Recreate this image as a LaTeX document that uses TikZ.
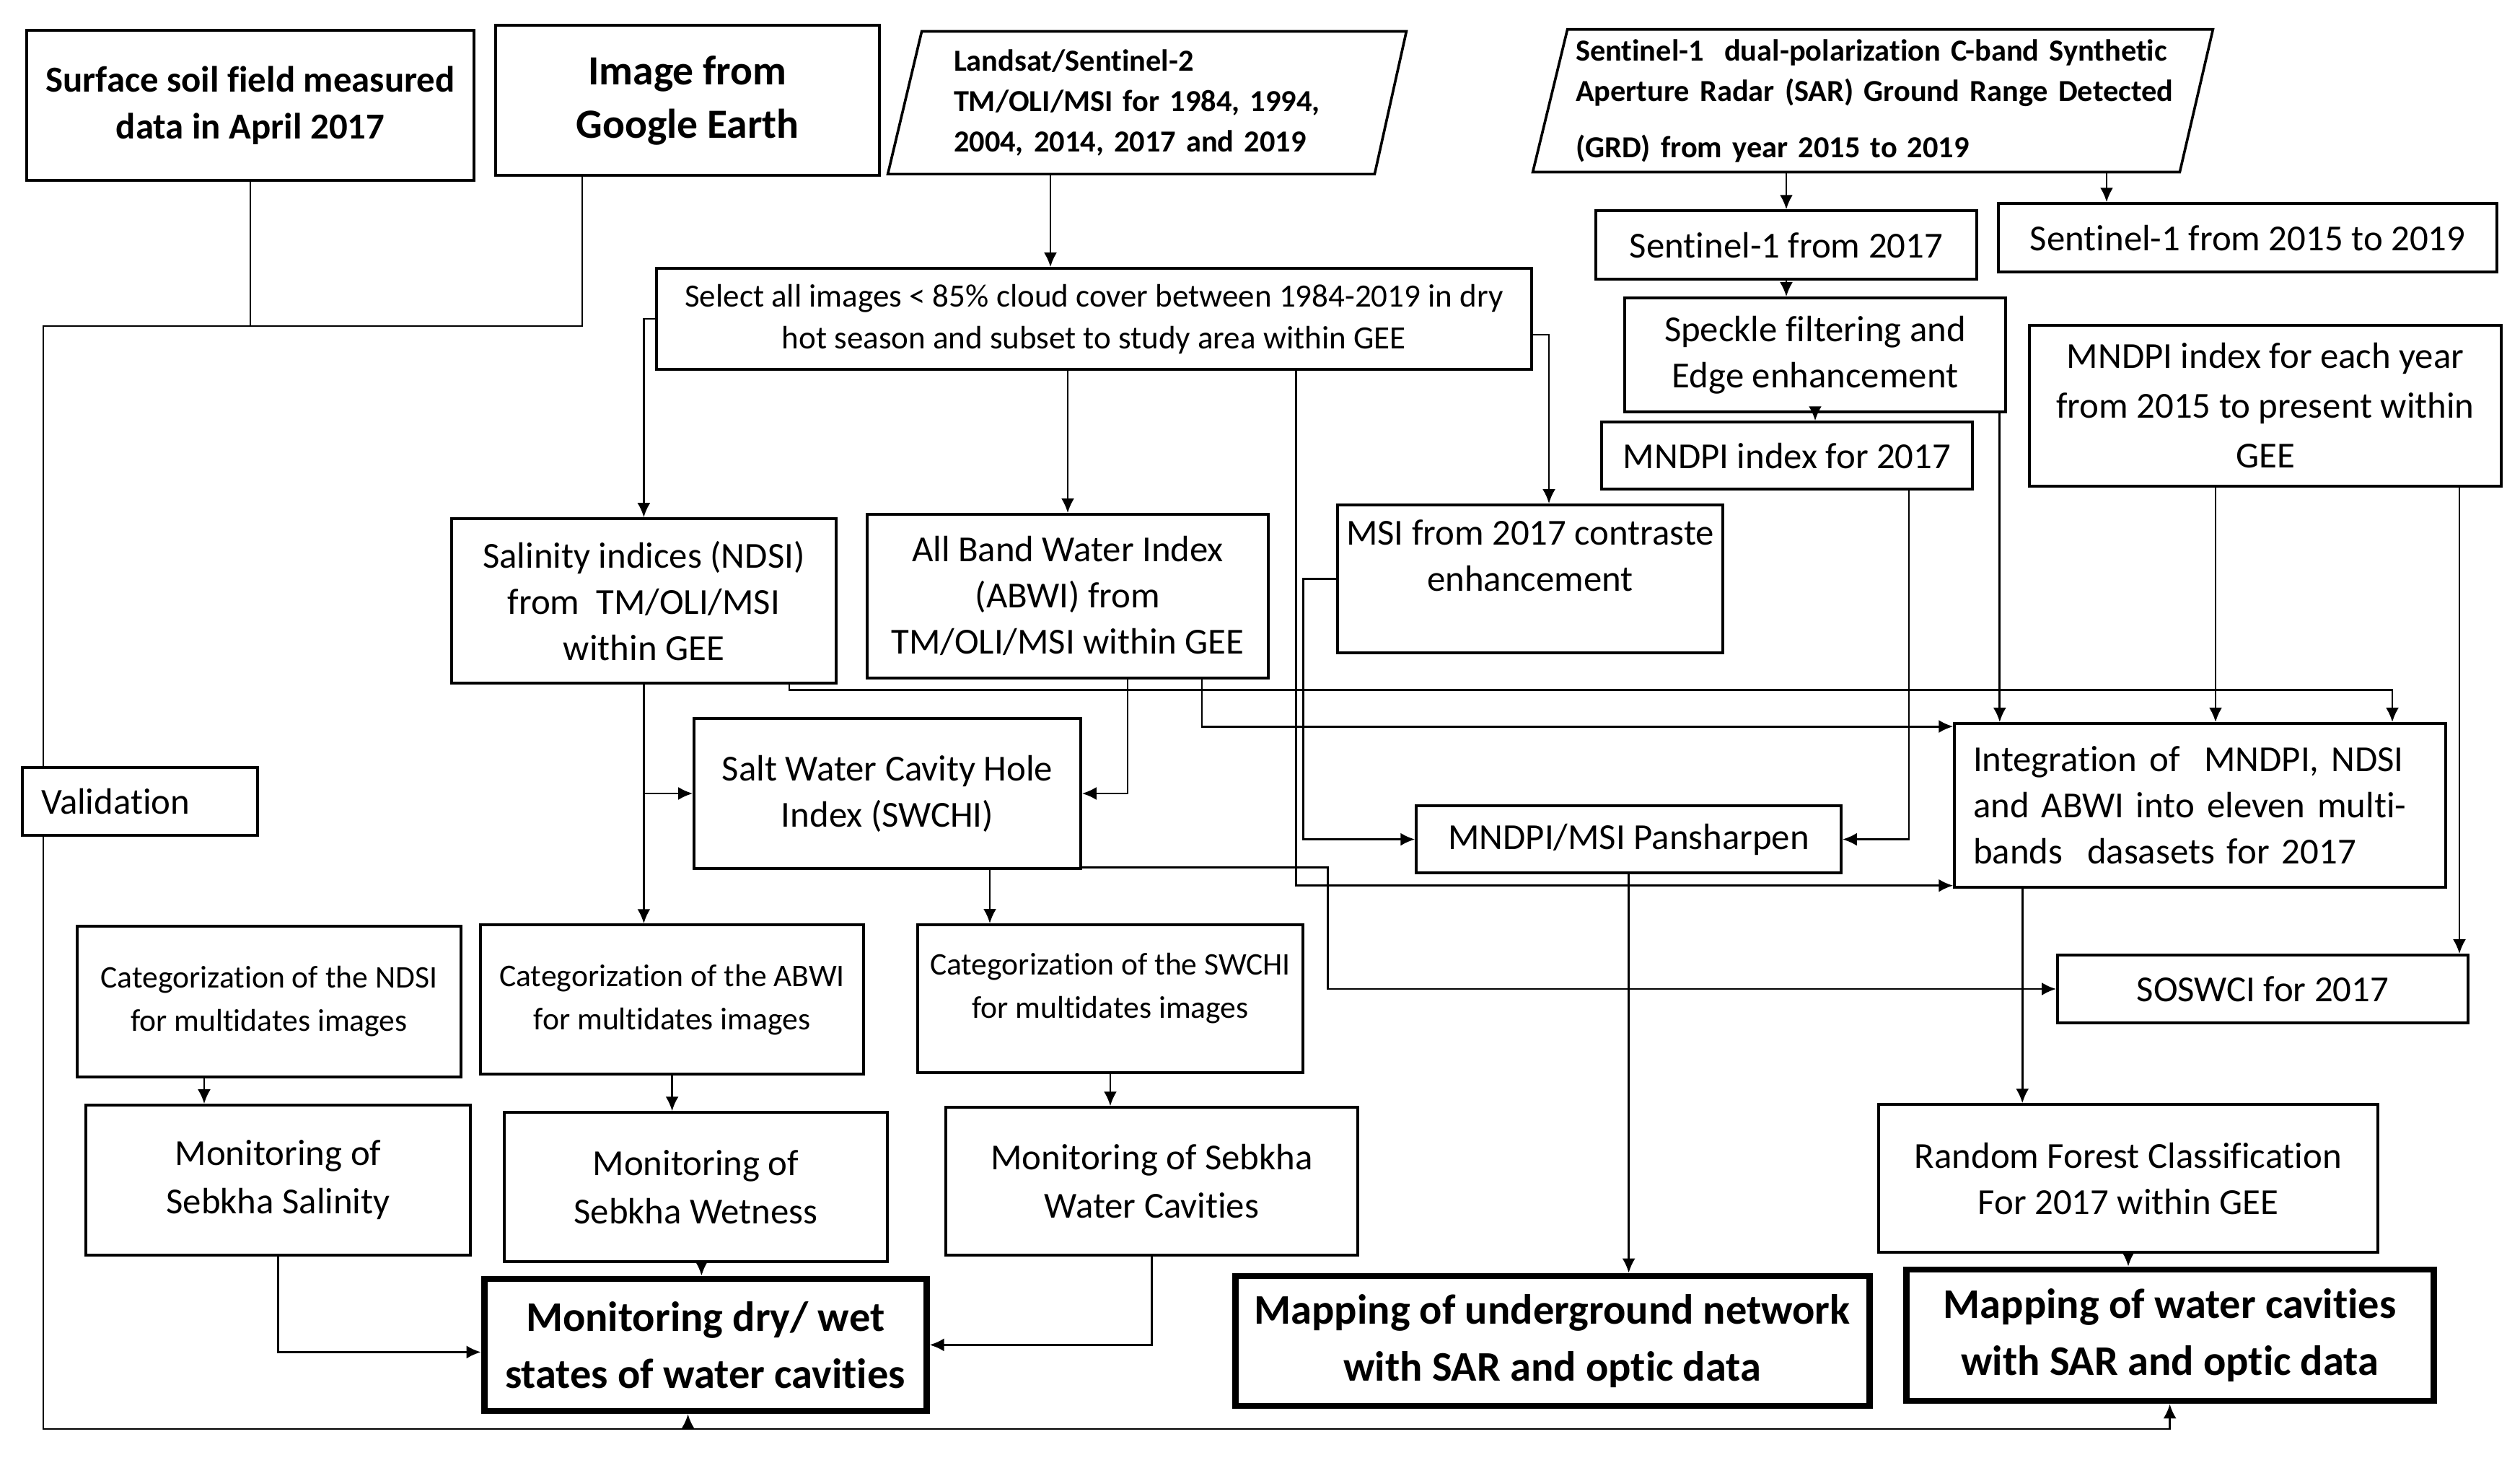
\documentclass[tikz,border=0pt]{standalone}
\usepackage{fontspec}
\setmainfont{Carlito}[Ligatures=NoCommon]
\usetikzlibrary{arrows.meta}

\begin{document}
\begin{tikzpicture}[x=1pt, y=1pt, line width=0.7pt, >={Latex[length=5pt,width=4.5pt]},
  box/.style = {draw, line width=0.9pt, inner sep=0pt, align=center, font=\fontsize{12.7}{16}\selectfont},
  catbox/.style = {box, font=\fontsize{10.9}{15}\selectfont},
  topbox/.style = {box, font=\bfseries\fontsize{12.7}{16.25}\selectfont},
  endbox/.style = {box, line width=2.2pt, font=\bfseries\fontsize{14.6}{19.75}\selectfont},
  para/.style = {inner sep=0pt, align=left, font=\bfseries\fontsize{10.6}{14}\selectfont}]
\useasboundingbox (0,0) rectangle (873.25,-506);

% input data
\node[topbox, minimum width=155pt, minimum height=52pt] (surf) at (86.75,-36.5) {Surface soil field measured\\data in April 2017};
\node[topbox, minimum width=133pt, minimum height=52pt, font=\bfseries\fontsize{14.4}{18.5}\selectfont] (gearth) at (238.25,-34.75) {Image from\\Google Earth};
\node[para, minimum width=179pt, minimum height=48.75pt, text width=134pt] (lan) at (397.5,-35.6) {Landsat/Sentinel-2\\TM/OLI/MSI for 1984, 1994,\\2004, 2014, 2017 and 2019};
\node[para, minimum width=235pt, minimum height=48.75pt, text width=206pt] (sen) at (649,-34.9) {\mbox{Sentinel-1\ \ dual-polarization C-band Synthetic}\\\mbox{Aperture Radar (SAR) Ground Range Detected}\\[5.5pt]\mbox{(GRD) from year 2015 to 2019}};
\draw[line width=0.9pt] ([xshift=11.75pt]lan.north west) -- (lan.north east) -- ([xshift=-11pt]lan.south east) -- (lan.south west) -- cycle;
\draw[line width=0.9pt] ([xshift=12pt]sen.north west) -- (sen.north east) -- ([xshift=-11.5pt]sen.south east) -- (sen.south west) -- cycle;

% preprocessing
\node[box, minimum width=303.25pt, minimum height=35pt, font=\fontsize{11.25}{14.5}\selectfont] (sel) at (379.1,-110.5) {Select all images < 85\% cloud cover between 1984-2019 in dry\\hot season and subset to study area within GEE};
\node[box, minimum width=132pt, minimum height=23.75pt] (s17) at (619,-84.9) {Sentinel-1 from 2017};
\node[box, minimum width=172.75pt, minimum height=23.75pt] (s1519) at (778.9,-82.4) {Sentinel-1 from 2015 to 2019};
\node[box, minimum width=132pt, minimum height=39.5pt] (spk) at (629,-123) {Speckle filtering and\\Edge enhancement};
\node[box, minimum width=128.5pt, minimum height=23.25pt] (m17) at (619.25,-157.9) {MNDPI index for 2017};
\node[box, minimum width=163.5pt, minimum height=55.75pt, font=\fontsize{12.7}{17.25}\selectfont] (myr) at (785,-140.6) {MNDPI index for each year\\from 2015 to present within\\GEE};

% indices
\node[box, minimum width=133.25pt, minimum height=57pt] (sal) at (223.1,-208.25) {Salinity indices (NDSI)\\from\ \ TM/OLI/MSI\\within GEE};
\node[box, minimum width=139pt, minimum height=56.75pt] (abwi) at (370,-206.6) {All Band Water Index\\(ABWI) from\\TM/OLI/MSI within GEE};
\node[box, minimum width=133.5pt, minimum height=51.25pt] (msi) at (530.25,-200.6) {MSI from 2017 contraste\\enhancement\\\phantom{x}};
\node[box, minimum width=81.5pt, minimum height=23.5pt, align=left, text width=68.5pt] (val) at (48.5,-277.75) {Validation};
\node[box, minimum width=134pt, minimum height=52pt] (swc) at (307.5,-275) {Salt Water Cavity Hole\\Index (SWCHI)};
\node[box, minimum width=147.25pt, minimum height=23.25pt] (pan) at (564.4,-290.9) {MNDPI/MSI Pansharpen};
\node[box, minimum width=170.25pt, minimum height=56.75pt, align=left, text width=157.3pt] (integ) at (762.4,-279.1) {Integration of\ \ MNDPI, NDSI\\and ABWI into eleven multi-\\bands\ \ dasasets for 2017};

% categorization and monitoring
\node[catbox, minimum width=133pt, minimum height=52.25pt] (ncat) at (93.25,-347.1) {Categorization of the NDSI\\for multidates images};
\node[catbox, minimum width=132.75pt, minimum height=51.75pt] (acat) at (232.9,-346.4) {Categorization of the ABWI\\for multidates images};
\node[catbox, minimum width=133.5pt, minimum height=51.25pt] (scat) at (384.75,-346.1) {Categorization of the SWCHI\\for multidates images\\[-6pt]\phantom{x}};
\node[box, minimum width=142.25pt, minimum height=23.5pt] (sos) at (784.1,-342.75) {SOSWCI for 2017};
\node[box, minimum width=133.25pt, minimum height=52pt, font=\fontsize{12.7}{16.75}\selectfont] (msal) at (96.4,-409) {Monitoring of\\Sebkha Salinity};
\node[box, minimum width=132.75pt, minimum height=51.75pt, font=\fontsize{12.7}{16.75}\selectfont] (mwet) at (241.1,-411.4) {Monitoring of\\Sebkha Wetness};
\node[box, minimum width=142.75pt, minimum height=51.25pt, font=\fontsize{12.7}{16.75}\selectfont] (mcav) at (399.1,-409.4) {Monitoring of Sebkha\\Water Cavities};
\node[box, minimum width=173pt, minimum height=51.25pt] (rf) at (737.5,-408.4) {Random Forest Classification\\For 2017 within GEE};

% results
\node[endbox, minimum width=153.25pt, minimum height=45.75pt] (dw) at (244.4,-466.1) {Monitoring dry/ wet\\states of water cavities};
\node[endbox, minimum width=219.75pt, minimum height=45pt] (mug) at (537.9,-464.75) {Mapping of underground network\\with SAR and optic data};
\node[endbox, minimum width=182.75pt, minimum height=45.5pt] (mwc) at (751.9,-462.75) {Mapping of water cavities\\with SAR and optic data};

% validation loop
\coordinate (jl) at (15,-113);
\coordinate (jb) at (15,-495.25);
\draw (surf.south) -- (surf.south |- jl);
\draw ([xshift=-36.5pt]gearth.south) |- (jl) -- (jl |- val.north);
\draw[->] (jl |- val.south) -- (jb) -| (mwc.south);
\draw[->] ([xshift=-6pt]dw.south |- jb) -- ([xshift=-6pt]dw.south);

% optical branch
\draw[->] ([xshift=-33.5pt]lan.south) -- ([xshift=-33.5pt]lan.south |- sel.north);
\draw[->] (sel.west) -| (sal.north);
\draw[->] (sel.south -| abwi.north) -- (abwi.north);
\draw[->] ([xshift=70pt]sel.south) |- ([yshift=1pt]integ.south west);
\draw[->] ([yshift=-5.5pt]sel.east) -| ([xshift=6.5pt]msi.north);
\draw[->] ([xshift=50.4pt]sal.south) -- ++(0,-2pt) -| ([xshift=66.6pt]integ.north);
\draw[->] (sal.south) -- (sal.south |- acat.north);
\draw[->] (sal.south |- swc.west) -- (swc.west);
\draw[->] ([xshift=20.75pt]abwi.south) |- (swc.east);
\draw[->] ([xshift=46.5pt]abwi.south) |- ([yshift=-1.5pt]integ.north west);
\draw[->] (msi.west) -- ++(-11.5pt,0) |- (pan.west);
\draw[->] ([yshift=0.75pt]swc.south east) -- ++(85.25pt,0) |- (sos.west);
\draw[->] ([xshift=35.5pt]swc.south) -- ([xshift=35.5pt]swc.south |- scat.north);

% radar branch
\draw[->] (sen.south -| s17.north) -- (s17.north);
\draw[->] ([xshift=-48.9pt]s1519.north |- sen.south) -- ([xshift=-48.9pt]s1519.north);
\draw[->] (s17.south) -- (s17.south |- spk.north);
\draw[->] (spk.south) -- (spk.south |- m17.north);
\draw[->] ([xshift=-2.5pt]spk.south east) -- ([xshift=-2.5pt]spk.south east |- integ.north);
\draw[->] ([xshift=42.25pt]m17.south) |- (pan.east);
\draw[->] ([xshift=-17.25pt]myr.south) -- ([xshift=-17.25pt]myr.south |- integ.north);
\draw[->] ([xshift=67.25pt]myr.south) -- ([xshift=67.25pt]myr.south |- sos.north);

% towards the results
\draw[->] ([xshift=-22.5pt]ncat.south) -- ([xshift=-22.5pt]ncat.south |- msal.north);
\draw[->] (acat.south) -- (acat.south |- mwet.north);
\draw[->] (scat.south) -- (scat.south |- mcav.north);
\draw[->] (msal.south) |- ([yshift=-2.5pt]dw.west);
\draw[->] ([xshift=2pt]mwet.south) -- ([xshift=2pt]mwet.south |- dw.north);
\draw[->] (mcav.south) |- (dw.east);
\draw[->] (pan.south) -- (pan.south |- mug.north);
\draw[->] ([xshift=-61.6pt]integ.south) -- ([xshift=-61.6pt]integ.south |- rf.north);
\draw[->] (rf.south) -- (rf.south |- mwc.north);
\end{tikzpicture}
\end{document}
